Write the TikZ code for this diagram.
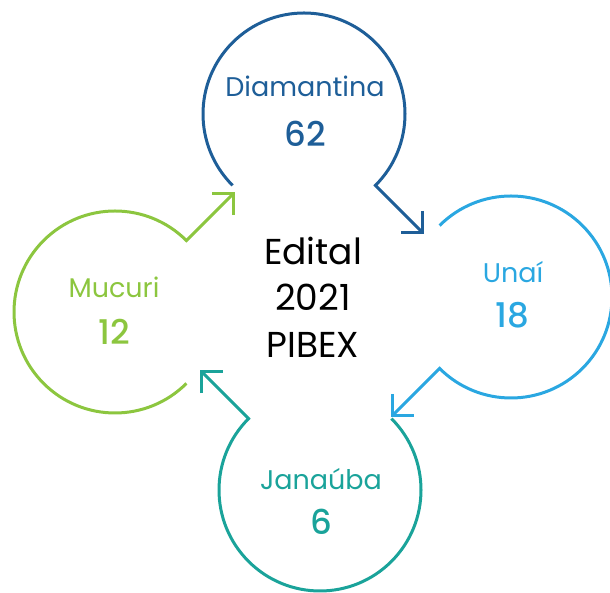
\documentclass[tikz,border=0pt]{standalone}
\usepackage{fontspec}
\usetikzlibrary{calc}
\setmainfont{Poppins}
\newfontfamily\numfont{Poppins}[UprightFont=* Medium]
\definecolor{cdia}{HTML}{1E5E98}
\definecolor{cuna}{HTML}{2AA7E1}
\definecolor{cjan}{HTML}{1AA39A}
\definecolor{cmuc}{HTML}{8CC63F}
\begin{document}
\begin{tikzpicture}[x=1pt,y=1pt,
  ring/.style={line width=3pt,line join=miter},
  tipline/.style={line width=3pt,line join=miter},
  lab/.style={anchor=base,font=\fontsize{27}{27}\selectfont,inner sep=0pt},
  num/.style={anchor=base,font=\numfont\fontsize{34}{34}\selectfont,inner sep=0pt},
  ctr/.style={anchor=base,font=\fontsize{36}{36}\selectfont,inner sep=0pt}]
\useasboundingbox (0,0) rectangle (610,593);
\def\R{101}
% centers
\coordinate (D) at (304,479);
\coordinate (U) at (511,296);
\coordinate (J) at (320,103);
\coordinate (M) at (115,281);
% Diamantina: free end at 225, arrow at -45
\draw[ring,cdia] ($(D)+(225:\R)$) arc[start angle=225,end angle=-45,radius=\R] -- ($(D)+(-45:168)$) coordinate (Dt);
\draw[tipline,cdia] ($(Dt)+(90:22)$) -- (Dt) -- ($(Dt)+(180:22)$);
% Unai: free end at 135, arrow at -135
\draw[ring,cuna] ($(U)+(135:\R)$) arc[start angle=135,end angle=-135,radius=\R] -- ($(U)+(-135:168)$) coordinate (Ut);
\draw[tipline,cuna] ($(Ut)+(90:22)$) -- (Ut) -- ($(Ut)+(0:22)$);
% Janauba: free end at 45, arrow at 135
\draw[ring,cjan] ($(J)+(45:\R)$) arc[start angle=45,end angle=-225,radius=\R] -- ($(J)+(135:168)$) coordinate (Jt);
\draw[tipline,cjan] ($(Jt)+(-90:22)$) -- (Jt) -- ($(Jt)+(0:22)$);
% Mucuri: free end at -45, arrow at 45
\draw[ring,cmuc] ($(M)+(-45:\R)$) arc[start angle=-45,end angle=-315,radius=\R] -- ($(M)+(45:168)$) coordinate (Mt);
\draw[tipline,cmuc] ($(Mt)+(-90:22)$) -- (Mt) -- ($(Mt)+(180:22)$);
% labels
\node[lab,text=cdia] (dl) at (305,496) {Diamantina};
\node[num,text=cdia] (dn) at (305,446) {62};
\node[lab,text=cuna] (ul) at (513,310) {Unaí};
\node[num,text=cuna] (un) at (512,265) {18};
\node[lab,text=cjan] (jl) at (321,103) {Janaúba};
\node[num,text=cjan] (jn) at (321,58) {6};
\node[lab,text=cmuc] (ml) at (114,295) {Mucuri};
\node[num,text=cmuc] (mn) at (114,248) {12};
\node[ctr] (c1) at (313,328) {Edital};
\node[ctr] (c2) at (313,282) {2021};
\node[ctr] (c3) at (313,235) {PIBEX};
\end{tikzpicture}
\end{document}
